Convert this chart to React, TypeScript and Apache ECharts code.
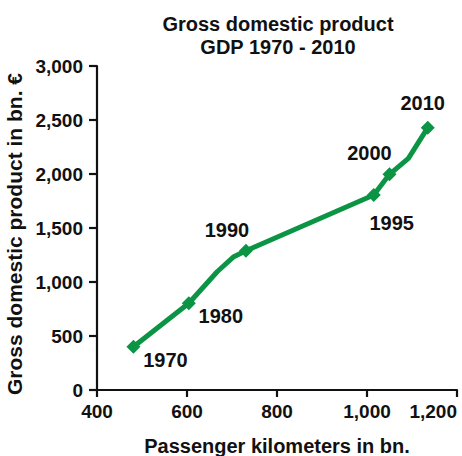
import React, { useEffect, useRef } from "react";
import * as echarts from "echarts";

const years = ["1970", "1980", "", "", "1990", "1995", "2000", "", "2010"];
const passengerKm = [481, 604, 667, 704, 731, 1015, 1050, 1092, 1135];
const gdp = [401, 803, 1095, 1234, 1290, 1806, 1997, 2145, 2429];
const xTicks = [400, 600, 800, 1000, 1200];
const yTicks = [0, 500, 1000, 1500, 2000, 2500, 3000];

const GREEN = "#0b9444";
const FONT = "Liberation Sans, Arial, Helvetica, sans-serif";
const TXT = "#111";

const labelOffsets: Record<string, [number, number]> = {
  "1970": [32, 13],
  "1980": [32, 13],
  "1990": [-19, -21],
  "1995": [18, 28],
  "2000": [-20, -21],
  "2010": [-5, -25],
};

const fmt = (v: number) => v.toLocaleString("en-US");

export default function App() {
  const ref = useRef<HTMLDivElement>(null);
  useEffect(() => {
    if (!ref.current) return;
    const chart = echarts.init(ref.current, undefined, { renderer: "svg" });
    const data = passengerKm.map((x, i) => {
      const yr = years[i];
      const item: any = { value: [x, gdp[i]] };
      if (yr) {
        item.symbol = "diamond";
        item.symbolSize = 14;
        item.label = {
          show: true,
          formatter: yr,
          position: "inside",
          offset: labelOffsets[yr],
          color: TXT,
          fontSize: 20,
          fontWeight: "bold",
          fontFamily: FONT,
        };
      } else {
        item.symbol = "none";
        item.symbolSize = 0;
      }
      return item;
    });
    const tickText = { fontSize: 19, fontWeight: "bold", fontFamily: FONT, color: TXT };
    const nameText = { fontSize: 20, fontWeight: "bold", fontFamily: FONT, color: TXT };
    chart.setOption({
      animation: false,
      title: {
        text: "Gross domestic product\nGDP 1970 - 2010",
        left: 273,
        top: 7,
        textAlign: "center",
        textStyle: { ...nameText, lineHeight: 23 },
      },
      grid: {
        left: 97,
        right: 5,
        top: 66,
        bottom: 66,
        containLabel: false,
        outerBoundsMode: "none",
      },
      xAxis: {
        type: "value",
        min: xTicks[0],
        max: xTicks[xTicks.length - 1],
        interval: 200,
        name: "Passenger kilometers in bn.",
        nameLocation: "middle",
        nameGap: 46,
        nameTextStyle: nameText,
        axisLine: { show: true, onZero: false, lineStyle: { color: TXT, width: 2.2 } },
        axisTick: { show: true, length: 7, lineStyle: { color: TXT, width: 2.2 } },
        axisLabel: {
          ...tickText,
          formatter: (v: number) => fmt(v),
          margin: 12,
          alignMaxLabel: "right",
        },
        splitLine: { show: false },
      },
      yAxis: {
        type: "value",
        min: yTicks[0],
        max: yTicks[yTicks.length - 1],
        interval: 500,
        name: "Gross domestic product in bn. €",
        nameLocation: "middle",
        nameGap: 69,
        nameRotate: 90,
        nameTextStyle: { ...nameText, fontSize: 21, padding: [0, 12, 0, 0] },
        axisLine: { show: true, lineStyle: { color: TXT, width: 2.2 } },
        axisTick: { show: true, length: 8, lineStyle: { color: TXT, width: 2.2 } },
        axisLabel: { ...tickText, formatter: (v: number) => fmt(v), margin: 14 },
        splitLine: { show: false },
      },
      series: [
        {
          type: "line",
          data,
          showAllSymbol: true,
          lineStyle: { color: GREEN, width: 5 },
          itemStyle: { color: GREEN },
          emphasis: { disabled: true },
        },
      ],
    });
    return () => chart.dispose();
  }, []);
  return <div ref={ref} style={{ width: 462, height: 456, position: "absolute", left: 0, top: 0 }} />;
}
